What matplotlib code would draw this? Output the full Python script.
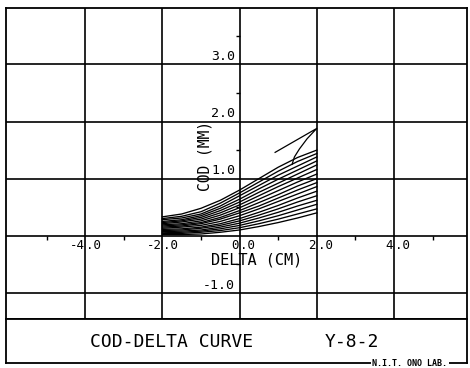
import matplotlib.pyplot as plt

delta_pts = [-2.0, -1.5, -1.0, -0.5, 0.0, 0.5, 1.0, 1.5, 2.0]

# COD (mm) values of the loop branches, top to bottom
cod_1 = [0.33, 0.38, 0.48, 0.62, 0.80, 1.00, 1.20, 1.37, 1.50]
cod_2 = [0.30, 0.34, 0.42, 0.57, 0.75, 0.94, 1.13, 1.30, 1.44]
cod_3 = [0.28, 0.31, 0.38, 0.52, 0.70, 0.88, 1.06, 1.22, 1.38]
cod_4 = [0.25, 0.28, 0.35, 0.48, 0.64, 0.82, 0.99, 1.15, 1.31]
cod_5 = [0.23, 0.26, 0.32, 0.44, 0.59, 0.76, 0.92, 1.08, 1.24]
cod_6 = [0.21, 0.24, 0.29, 0.40, 0.54, 0.70, 0.86, 1.01, 1.16]
cod_7 = [0.19, 0.21, 0.26, 0.36, 0.49, 0.64, 0.79, 0.94, 1.08]
cod_8 = [0.17, 0.19, 0.23, 0.32, 0.44, 0.58, 0.72, 0.87, 1.00]
cod_9 = [0.15, 0.17, 0.21, 0.29, 0.40, 0.52, 0.66, 0.80, 0.93]
cod_10 = [0.13, 0.15, 0.18, 0.25, 0.35, 0.47, 0.60, 0.73, 0.86]
cod_11 = [0.11, 0.12, 0.15, 0.21, 0.30, 0.41, 0.53, 0.66, 0.78]
cod_12 = [0.09, 0.10, 0.13, 0.18, 0.26, 0.36, 0.47, 0.59, 0.70]
cod_13 = [0.07, 0.08, 0.10, 0.15, 0.22, 0.31, 0.41, 0.52, 0.62]
cod_14 = [0.05, 0.06, 0.08, 0.12, 0.18, 0.26, 0.35, 0.45, 0.55]
cod_15 = [0.04, 0.04, 0.06, 0.09, 0.14, 0.21, 0.29, 0.38, 0.47]
cod_16 = [0.02, 0.02, 0.03, 0.06, 0.10, 0.16, 0.23, 0.31, 0.40]
branches = [cod_1, cod_2, cod_3, cod_4, cod_5, cod_6, cod_7, cod_8,
            cod_9, cod_10, cod_11, cod_12, cod_13, cod_14, cod_15, cod_16]

# last excursion at the top right
last_x = [0.92, 2.0, 1.75, 1.55, 1.42, 1.36]
last_y = [1.46, 1.88, 1.70, 1.52, 1.38, 1.25]

x_grid = [-4, -2, 0, 2, 4]
y_grid = [-1, 0, 1, 2, 3]
x_labels = ['-4', '-2', '0', '2', '4']
y_labels = ['3.0', '2.0', '1.0', '-1.0']
y_label_pos = [3, 2, 1, -1]
x_minor = [-5, -3, -1, 1, 3, 5]
y_minor = [-0.5, 0.5, 1.5, 2.5, 3.5]

fnt = 'DejaVu Sans Mono'
W, H = 470, 368

fig = plt.figure(figsize=(W / 100, H / 100), dpi=100)
ax = fig.add_axes([6 / W, 1 - 319 / H, 461 / W, 311 / H])
ax.set_xlim(-6.05, 5.89)
ax.set_ylim(-1.46, 3.99)
for s in ax.spines.values():
    s.set_linewidth(1.3)
ax.set_xticks([])
ax.set_yticks([])

for gx in x_grid:
    ax.axvline(gx, color='black', lw=1.2)
for gy in y_grid:
    ax.axhline(gy, color='black', lw=1.2)

# small ticks on the axes
ax.plot(x_minor, [-0.04] * len(x_minor), '|', color='black', ms=3, mew=1)
ax.plot([-0.05] * len(y_minor), y_minor, '_', color='black', ms=3, mew=1)

for b in branches:
    ax.plot(delta_pts, b, color='black', lw=0.95)
ax.plot(last_x, last_y, color='black', lw=0.9)

# tick labels, decimal point sits on the grid line
for gx, lab in zip(x_grid, x_labels):
    ax.text(gx - 0.02, -0.06, lab, ha='right', va='top', fontsize=9, family=fnt)
    ax.text(gx + 0.02, -0.06, '.0', ha='left', va='top', fontsize=9, family=fnt)
for gy, lab in zip(y_label_pos, y_labels):
    ax.text(-0.12, gy + 0.02, lab, ha='right', va='bottom', fontsize=9.5, family=fnt)

ax.text(0.44, -0.43, 'DELTA (CM)', ha='center', va='center', fontsize=11, family=fnt)
ax.text(-0.89, 1.4, 'COD (MM)', ha='center', va='center', rotation=90,
        fontsize=10.5, family=fnt)

# title box under the plot
box = fig.add_axes([6 / W, 5 / H, 461 / W, 44 / H])
box.set_xticks([])
box.set_yticks([])
for s in box.spines.values():
    s.set_linewidth(1.3)
box.text(0.36, 0.47, 'COD-DELTA CURVE', ha='center', va='center', fontsize=13, family=fnt)
box.text(0.75, 0.47, 'Y-8-2', ha='center', va='center', fontsize=13, family=fnt)
box.text(0.876, 0.0, 'N.I.T. ONO LAB.', ha='center', va='center', fontsize=6,
         family=fnt, weight='bold',
         bbox=dict(facecolor='white', edgecolor='none', pad=1))

fig.savefig('out.png', dpi=100)
